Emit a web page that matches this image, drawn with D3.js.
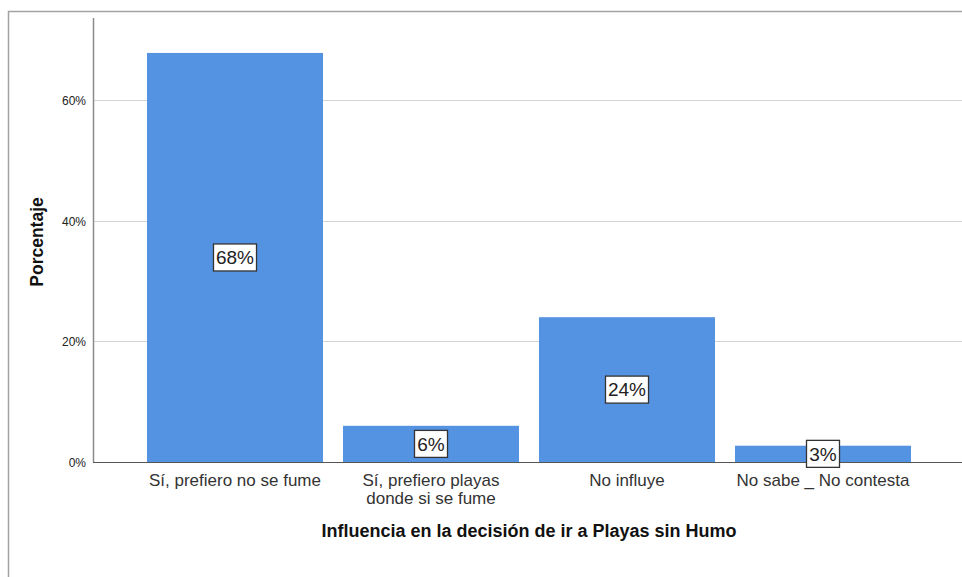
<!DOCTYPE html>
<html>
<head>
<meta charset="utf-8">
<script src="https://cdn.jsdelivr.net/npm/d3@7"></script>
<style>
  body { margin: 0; background: #fff; }
  svg { display: block; font-family: 'Liberation Sans', Arial, sans-serif; }
</style>
</head>
<body>
<div id="chart"></div>
<script>
// chart data
const categories = [
  ['Sí, prefiero no se fume'],
  ['Sí, prefiero playas', 'donde si se fume'],
  ['No influye'],
  ['No sabe _ No contesta']
]
const percentages = [67.8, 6.0, 24.0, 2.7]
const valueLabels = ['68%', '6%', '24%', '3%']
const yTicks = [0, 20, 40, 60]

const width = 962
const height = 577
const plot = { left: 93, right: 965, top: 18, bottom: 462 }

const svg = d3.select('#chart')
  .append('svg')
  .attr('width', width)
  .attr('height', height)

// outer frame
svg.append('path')
  .attr('d', `M8.5,${height} V11.5 H${width}`)
  .attr('fill', 'none')
  .attr('stroke', '#a3a3a3')
  .attr('stroke-width', 1.5)

const x = d3.scaleBand()
  .domain(d3.range(categories.length))
  .range([plot.left, plot.right])
  .paddingInner(20 / 196)
  .paddingOuter(0.2755)

const y = d3.scaleLinear()
  .domain([0, (plot.bottom - plot.top) / ((plot.bottom - 100) / 60)])
  .range([plot.bottom, plot.top])

// gridlines
svg.append('g')
  .selectAll('line')
  .data(yTicks.filter((d) => d > 0))
  .join('line')
  .attr('x1', plot.left)
  .attr('x2', width)
  .attr('y1', (d) => Math.round(y(d)) + 0.5)
  .attr('y2', (d) => Math.round(y(d)) + 0.5)
  .attr('stroke', '#d4d4d4')

// bars
svg.append('g')
  .selectAll('rect')
  .data(percentages)
  .join('rect')
  .attr('x', (d, i) => x(i))
  .attr('width', x.bandwidth())
  .attr('y', (d) => y(d))
  .attr('height', (d) => y(0) - y(d))
  .attr('fill', '#5493e2')

// baseline and y axis line
svg.append('line')
  .attr('x1', plot.left)
  .attr('x2', width)
  .attr('y1', plot.bottom + 0.5)
  .attr('y2', plot.bottom + 0.5)
  .attr('stroke', '#555')
svg.append('line')
  .attr('x1', plot.left + 0.5)
  .attr('x2', plot.left + 0.5)
  .attr('y1', plot.top)
  .attr('y2', plot.bottom)
  .attr('stroke', '#8a8a8a')
  .attr('stroke-width', 1.5)

// y tick labels
svg.append('g')
  .selectAll('text')
  .data(yTicks)
  .join('text')
  .attr('x', 86)
  .attr('y', (d) => y(d) + 5)
  .attr('text-anchor', 'end')
  .attr('font-size', 12)
  .attr('fill', '#222')
  .text((d) => d + '%')

// x tick labels
const xLabels = svg.append('g')
  .selectAll('text')
  .data(categories)
  .join('text')
  .attr('x', (d, i) => x(i) + x.bandwidth() / 2)
  .attr('y', 486)
  .attr('text-anchor', 'middle')
  .attr('font-size', 17)
  .attr('fill', '#333')
xLabels.selectAll('tspan')
  .data((d) => d)
  .join('tspan')
  .attr('x', function () { return this.parentNode.getAttribute('x') })
  .attr('dy', (d, i) => i === 0 ? 0 : 18)
  .text((d) => d)

// value labels in boxes
const labels = svg.append('g')
  .selectAll('g')
  .data(percentages)
  .join('g')
  .attr('transform', (d, i) => `translate(${x(i) + x.bandwidth() / 2}, ${(y(d) + y(0)) / 2})`)

labels.append('text')
  .attr('text-anchor', 'middle')
  .attr('dy', '0.36em')
  .attr('font-size', 19)
  .attr('fill', '#222')
  .text((d, i) => valueLabels[i])

labels.each(function () {
  const g = d3.select(this)
  const box = g.select('text').node().getBBox()
  g.insert('rect', 'text')
    .attr('x', Math.round(box.x) - 2.5)
    .attr('y', -13.5)
    .attr('width', Math.round(box.width) + 5)
    .attr('height', 27)
    .attr('fill', '#fff')
    .attr('stroke', '#333')
    .attr('stroke-width', 1.3)
})

// axis titles
svg.append('text')
  .attr('transform', 'translate(43, 242) rotate(-90)')
  .attr('text-anchor', 'middle')
  .attr('font-size', 17.5)
  .attr('font-weight', 'bold')
  .attr('fill', '#111')
  .text('Porcentaje')

svg.append('text')
  .attr('x', 529)
  .attr('y', 537)
  .attr('text-anchor', 'middle')
  .attr('font-size', 18)
  .attr('font-weight', 'bold')
  .attr('fill', '#111')
  .text('Influencia en la decisión de ir a Playas sin Humo')
</script>
</body>
</html>
